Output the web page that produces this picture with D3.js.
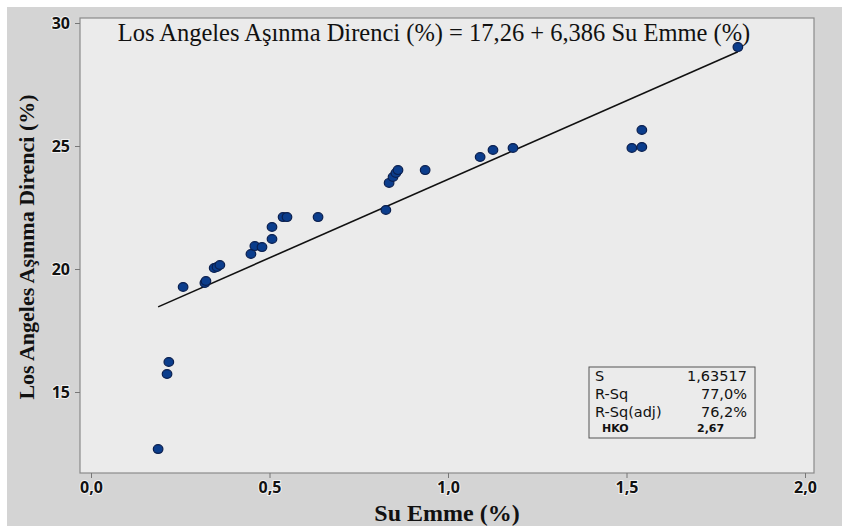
<!DOCTYPE html>
<html><head><meta charset="utf-8">
<script src="https://cdn.jsdelivr.net/npm/d3@7"></script>
<style>
html,body{margin:0;padding:0;background:#fff;}
svg{display:block;}
</style></head>
<body>
<svg id="chart" width="842" height="526"></svg>
<script>
// Data
const suEmme = [0.188,0.213,0.218,0.258,0.319,0.322,0.345,0.353,0.361,0.448,0.459,0.479,0.507,0.507,0.538,0.549,0.636,0.826,0.835,0.846,0.854,0.860,0.936,1.090,1.126,1.182,1.515,1.543,1.543,1.812];
const losAngeles = [12.68,15.73,16.22,19.27,19.43,19.51,20.04,20.08,20.16,20.61,20.93,20.89,21.22,21.71,22.11,22.11,22.11,22.40,23.50,23.74,23.90,24.02,24.02,24.55,24.84,24.92,24.92,24.96,25.65,29.02];
const intercept = 17.26, slope = 6.386;
const xTicks = [0,0.5,1.0,1.5,2.0];
const xTickLabels = ["0,0","0,5","1,0","1,5","2,0"];
const yTicks = [15,20,25,30];
const yTickLabels = ["15","20","25","30"];
const statNames = ["S","R-Sq","R-Sq(adj)"];
const statValues = ["1,63517","77,0%","76,2%"];
const extraName = "HKO", extraValue = "2,67";
const titleText = "Los Angeles Aşınma Direnci (%) = 17,26 + 6,386 Su Emme (%)";
const xLabel = "Su Emme (%)";
const yLabel = "Los Angeles Aşınma Direnci (%)";

const svg = d3.select("#chart");
const sans = "'Open Sans', 'Noto Sans', sans-serif";
const boxFont = "'DejaVu Sans', sans-serif";
const serif = "'Liberation Serif', 'Times New Roman', serif";
// backgrounds
svg.append("rect").attr("x",0).attr("y",0).attr("width",842).attr("height",526).attr("fill","#ffffff");
svg.append("rect").attr("x",7).attr("y",7).attr("width",835).attr("height",519).attr("fill","#d4d4d4");

const L=80, R=814, T=18, B=473;
const x = d3.scaleLinear().domain([0,2]).range([91,805]);
const y = d3.scaleLinear().domain([15,30]).range([392,23]);

svg.append("rect").attr("x",L).attr("y",T).attr("width",R-L).attr("height",B-T)
  .attr("fill","#ebebeb").attr("stroke","#8a8a8a").attr("stroke-width",1.2);

// axes
const xAxis = d3.axisBottom(x).tickValues(xTicks).tickSize(5).tickPadding(4)
  .tickFormat((d,i)=>xTickLabels[i]);
const gx = svg.append("g").attr("transform",`translate(0,${B})`).call(xAxis);
gx.select(".domain").remove();
gx.selectAll("line").attr("stroke","#777");
gx.selectAll("text").attr("font-family",sans)
  .attr("font-weight","bold").attr("font-size","16px").attr("fill","#111")
  .attr("stroke","#f2f2f2").attr("stroke-width",2).attr("paint-order","stroke");

const yAxis = d3.axisLeft(y).tickValues(yTicks).tickSize(5).tickPadding(5)
  .tickFormat((d,i)=>yTickLabels[i]);
const gy = svg.append("g").attr("transform",`translate(${L},0)`).call(yAxis);
gy.select(".domain").remove();
gy.selectAll("line").attr("stroke","#777");
gy.selectAll("text").attr("font-family",sans)
  .attr("font-weight","bold").attr("font-size","16px").attr("fill","#111")
  .attr("stroke","#f2f2f2").attr("stroke-width",2).attr("paint-order","stroke");

// regression line
const xmin = d3.min(suEmme), xmax = d3.max(suEmme);
svg.append("line")
  .attr("x1",x(xmin)).attr("y1",y(intercept+slope*xmin))
  .attr("x2",x(xmax)).attr("y2",y(intercept+slope*xmax))
  .attr("stroke","#111").attr("stroke-width",1.6);

// points
svg.append("g").selectAll("ellipse").data(suEmme.map((d,i)=>[d,losAngeles[i]]))
  .join("ellipse")
  .attr("cx",d=>x(d[0])).attr("cy",d=>y(d[1]))
  .attr("rx",4.8).attr("ry",4.4)
  .attr("fill","#0b3d8c").attr("stroke","#0a1f4f").attr("stroke-width",1.2);

// title
svg.append("text").attr("x",434).attr("y",41).attr("text-anchor","middle")
  .attr("font-family",serif)
  .attr("font-size","24.5px").attr("fill","#111").text(titleText);

// axis labels
svg.append("text").attr("x",447).attr("y",521).attr("text-anchor","middle")
  .attr("font-family",serif)
  .attr("font-weight","bold").attr("font-size","24px").attr("fill","#111").text(xLabel);
svg.append("text").attr("transform","translate(34,247) rotate(-90)").attr("text-anchor","middle")
  .attr("font-family",serif)
  .attr("font-weight","bold").attr("font-size","22px").attr("fill","#111").text(yLabel);

// stats box
const bx=589, by=367, bw=166, bh=71;
svg.append("rect").attr("x",bx).attr("y",by).attr("width",bw).attr("height",bh)
  .attr("fill","#ebebeb").attr("stroke","#555").attr("stroke-width",1);
const rowY = [381,399,417];
statNames.forEach((n,i)=>{
  svg.append("text").attr("x",bx+6).attr("y",rowY[i])
    .attr("font-family",boxFont).attr("font-size","14.5px").attr("fill","#111").text(n);
  svg.append("text").attr("x",bx+bw-8).attr("y",rowY[i]).attr("text-anchor","end")
    .attr("font-family",boxFont).attr("font-size","14.5px").attr("fill","#111").text(statValues[i]);
});
svg.append("text").attr("x",bx+13).attr("y",432)
  .attr("font-family",boxFont).attr("font-weight","bold").attr("font-size","11px").attr("fill","#111").text(extraName);
svg.append("text").attr("x",bx+108).attr("y",432)
  .attr("font-family",boxFont).attr("font-weight","bold").attr("font-size","11px").attr("fill","#111").text(extraValue);
</script>
</body></html>
